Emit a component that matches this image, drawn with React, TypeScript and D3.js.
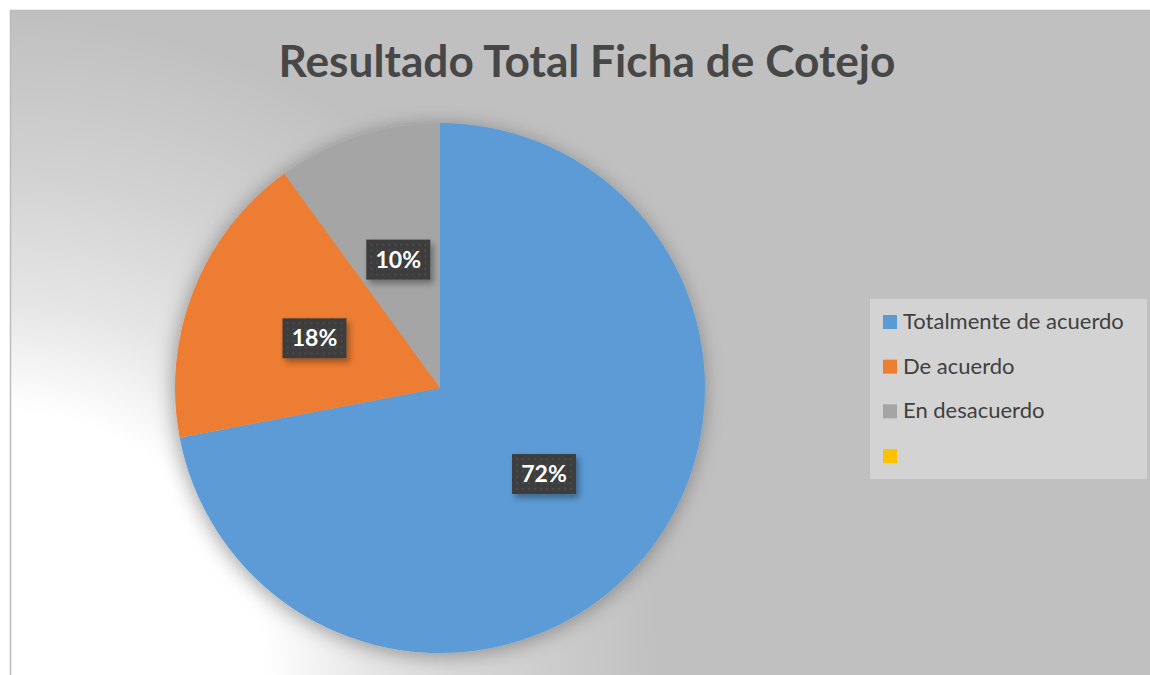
import React from "react";
import * as d3 from "d3";

const categories = ["Totalmente de acuerdo", "De acuerdo", "En desacuerdo", ""];
const values = [72, 18, 10, 0];
const valueLabels = ["72%", "18%", "10%", ""];
const colors = ["#5b9bd5", "#ed7d31", "#a5a5a5", "#ffc000"];
const title = "Resultado Total Ficha de Cotejo";

const W = 1150;
const H = 675;
const cx = 440;
const cy = 388;
const R = 265;

export default function App() {
  const pie = d3
    .pie<number>()
    .sort(null)
    .value((d) => d)(values);
  const arc = d3.arc<d3.PieArcDatum<number>>().innerRadius(0).outerRadius(R);
  const labelArc = d3
    .arc<d3.PieArcDatum<number>>()
    .innerRadius(135)
    .outerRadius(135);

  const legendY = d3
    .scaleLinear()
    .domain([0, 3])
    .range([322, 456]);

  return (
    <svg
      width={W}
      height={H}
      style={{ position: "absolute", left: 0, top: 0, display: "block" }}
    >
      <defs>
        <radialGradient
          id="bg"
          gradientUnits="userSpaceOnUse"
          cx={0}
          cy={675}
          r={660}
        >
          <stop offset="0" stopColor="#ffffff" />
          <stop offset="0.4" stopColor="#ffffff" />
          <stop offset="0.56" stopColor="#e6e6e6" />
          <stop offset="0.76" stopColor="#d2d2d2" />
          <stop offset="1" stopColor="#c0c0c0" />
        </radialGradient>
        <filter id="pieShadow" x="-20%" y="-20%" width="140%" height="140%">
          <feDropShadow dx="-2" dy="3" stdDeviation="10" floodColor="#000" floodOpacity="0.35" />
        </filter>
        <filter id="boxShadow" x="-30%" y="-30%" width="160%" height="160%">
          <feDropShadow dx="3" dy="4" stdDeviation="3" floodColor="#000" floodOpacity="0.35" />
        </filter>
        <pattern id="dots" width="6" height="6" patternUnits="userSpaceOnUse">
          <rect width="6" height="6" fill="#3d3d3d" />
          <circle cx="3" cy="3" r="1.3" fill="#4a4a4a" />
        </pattern>
      </defs>
      <rect x={0} y={0} width={W} height={H} fill="#ffffff" />
      <rect
        x={10.5}
        y={10.5}
        width={W}
        height={H}
        fill="url(#bg)"
        stroke="#bcbcbc"
        strokeWidth={1.5}
      />
      <text
        x={587}
        y={77}
        textAnchor="middle"
        fontFamily="Lato, 'Open Sans', sans-serif"
        fontWeight="bold"
        fontSize={43}
        fill="#474747"
        textLength={617}
        lengthAdjust="spacingAndGlyphs"
      >
        {title}
      </text>

      <g transform={`translate(${cx},${cy})`}>
        <g filter="url(#pieShadow)">
          {pie.map((d, i) => (
            <path key={i} d={arc(d) || ""} fill={colors[i]} />
          ))}
        </g>
        {pie.map((d, i) => {
          if (!values[i]) return null;
          const [lx, ly] = labelArc.centroid(d);
          return (
            <g key={"l" + i} transform={`translate(${lx},${ly})`}>
              <rect
                x={-32}
                y={-20}
                width={64}
                height={40}
                fill="url(#dots)"
                filter="url(#boxShadow)"
              />
              <text
                x={0}
                y={8}
                textAnchor="middle"
                fontFamily="Lato, 'Open Sans', sans-serif"
                fontWeight="bold"
                fontSize={23}
                fill="#ffffff"
              >
                {valueLabels[i]}
              </text>
            </g>
          );
        })}
      </g>

      <rect x={870} y={299} width={277} height={180} fill="#d3d3d3" />
      {categories.map((c, i) => (
        <g key={"lg" + i} transform={`translate(883,${legendY(i)})`}>
          <rect x={0} y={-7} width={14} height={14} fill={colors[i]} />
          <text
            x={20}
            y={7}
            fontFamily="Lato, 'Open Sans', sans-serif"
            fontSize={22}
            fill="#404040"
          >
            {c}
          </text>
        </g>
      ))}
    </svg>
  );
}
